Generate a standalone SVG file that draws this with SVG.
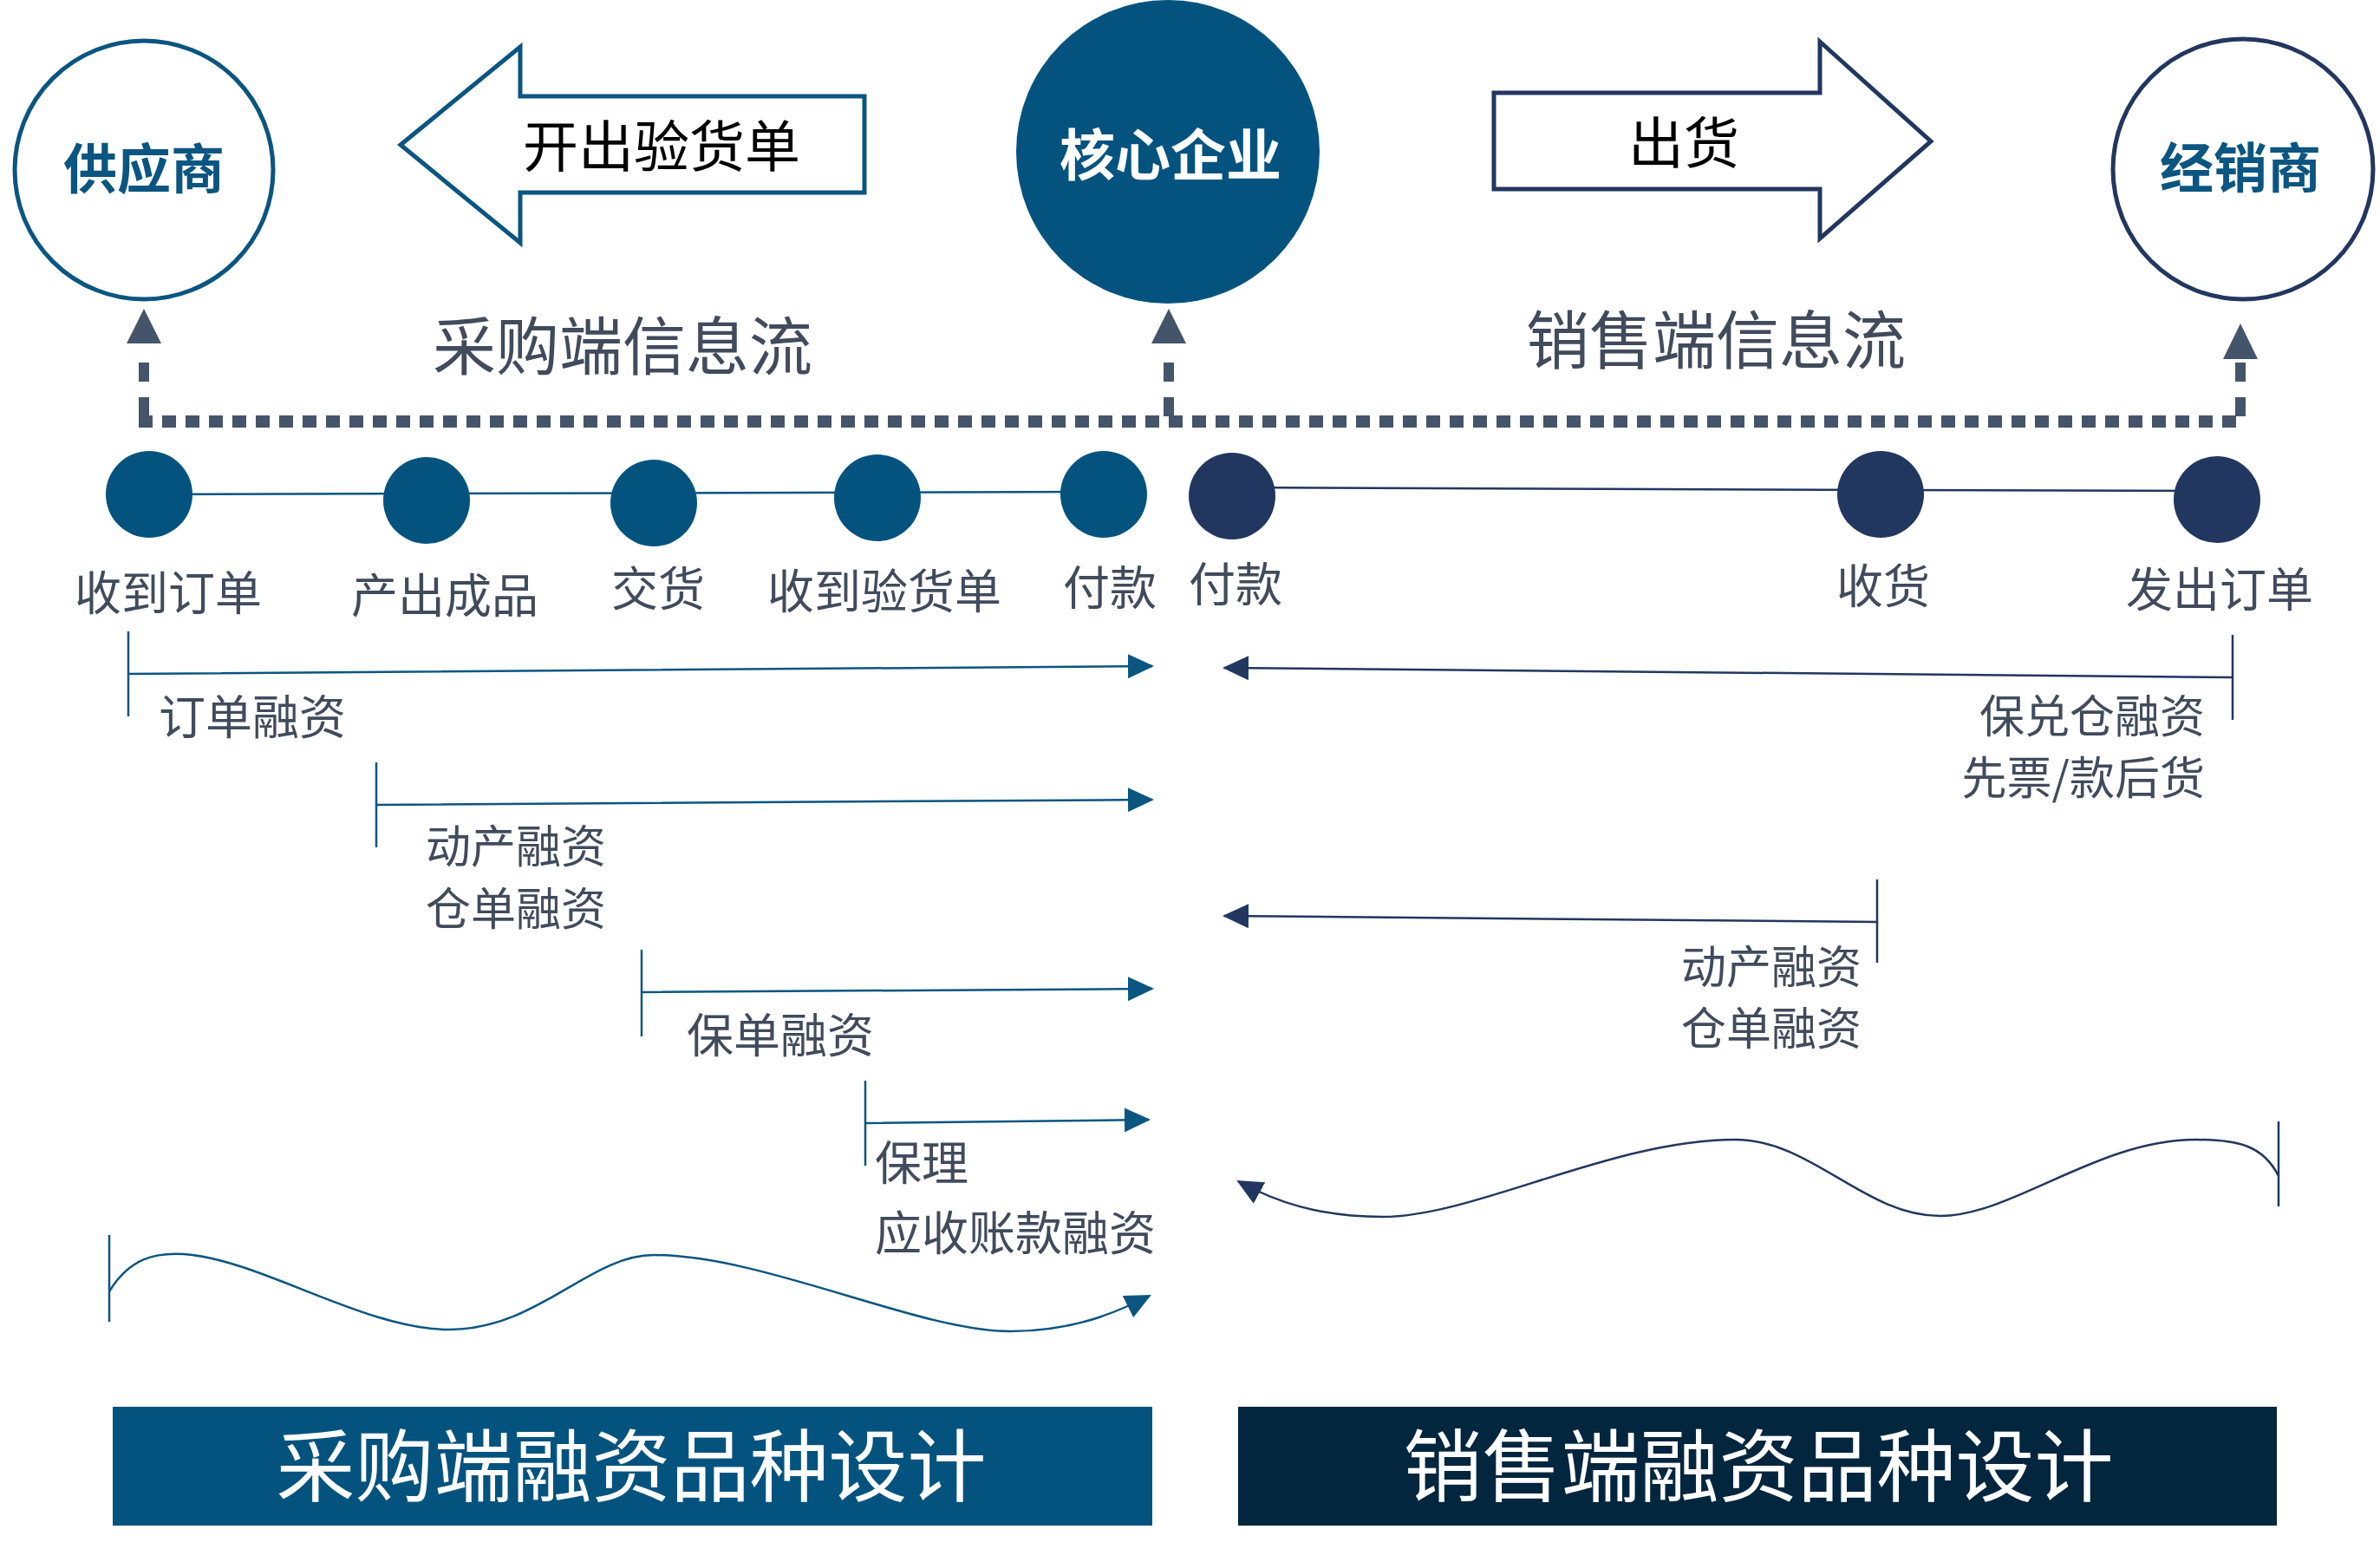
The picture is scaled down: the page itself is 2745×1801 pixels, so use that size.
<svg xmlns="http://www.w3.org/2000/svg" width="2745" height="1801" viewBox="0 0 2745 1801">
<style>
.t{font-family:"Noto Sans CJK SC","Liberation Sans",sans-serif;}
.lab{font-family:"Noto Sans CJK SC",sans-serif;font-size:54px;fill:#414b5c;}
.lab2{font-size:52px;}
.nl{stroke:#0b5581;stroke-width:2.5;fill:none;}
.nr{stroke:#22375f;stroke-width:2.5;fill:none;}
.dot{stroke:#44546a;stroke-width:14;stroke-dasharray:16 11;fill:none;}
.dotv{stroke:#44546a;stroke-width:12;stroke-dasharray:22 18;fill:none;}
.ln{fill:#04537f;}
.rn{fill:#22375f;}
</style>
<defs>
<marker id="ab" markerUnits="userSpaceOnUse" markerWidth="30" markerHeight="28" refX="28" refY="14" orient="auto"><path d="M0,0 L30,14 L0,28 Z" fill="#0b5581"/></marker>
<marker id="an" markerUnits="userSpaceOnUse" markerWidth="30" markerHeight="28" refX="28" refY="14" orient="auto"><path d="M0,0 L30,14 L0,28 Z" fill="#22375f"/></marker>
</defs>
<rect width="2745" height="1801" fill="#fff"/>
<g id="supplier"><circle cx="166" cy="196" r="149" fill="#fff" stroke="#0b5581" stroke-width="5"/><text class="t" x="166" y="218" font-size="62" font-weight="bold" fill="#0b5581" text-anchor="middle">供应商</text></g>
<g id="core"><circle cx="1347" cy="175" r="175" fill="#04537f"/><text class="t" x="1350" y="202" font-size="64" font-weight="bold" fill="#fff" text-anchor="middle">核心企业</text></g>
<g id="dealer"><circle cx="2587" cy="195" r="150" fill="#fff" stroke="#22375f" stroke-width="5"/><text class="t" x="2584" y="217" font-size="62" font-weight="bold" fill="#0b5581" text-anchor="middle">经销商</text></g>
<g id="arrow-left"><path d="M462,167 L600,54 L600,111 L997,111 L997,222 L600,222 L600,280 Z" fill="#fff" stroke="#0b5581" stroke-width="5"/><text class="t" x="763" y="192" font-size="64" fill="#000" text-anchor="middle">开出验货单</text></g>
<g id="arrow-right"><path d="M1723,107 L2099,107 L2099,48 L2227,163 L2099,275 L2099,218 L1723,218 Z" fill="#fff" stroke="#22375f" stroke-width="5"/><text class="t" x="1942" y="188" font-size="64" fill="#000" text-anchor="middle">出货</text></g>
<text class="t" x="718" y="426" font-size="73" fill="#414b5c" text-anchor="middle">采购端信息流</text>
<text class="t" x="1979" y="419" font-size="73" fill="#414b5c" text-anchor="middle">销售端信息流</text>
<g id="connectors">
<path class="dot" d="M160,486 H2590"/>
<path class="dotv" d="M166,480 V400"/><path d="M146,396 L166,356 L186,396 Z" fill="#44546a"/>
<path class="dotv" d="M1348,480 V400"/><path d="M1328,396 L1348,356 L1368,396 Z" fill="#44546a"/>
<path class="dotv" d="M2584,480 V418"/><path d="M2564,414 L2584,373 L2604,414 Z" fill="#44546a"/>
<path class="nl" d="M172,570 L1273,567"/>
<path class="nr" d="M1421,562 L2169,565 L2557,566"/>
<path class="nl" d="M148,728 V826 M148,777 L1329,768" marker-end="url(#ab)"/>
<path class="nl" d="M434,879 V977 M434,928 L1329,922" marker-end="url(#ab)"/>
<path class="nl" d="M740,1095 V1195 M740,1144 L1329,1140" marker-end="url(#ab)"/>
<path class="nl" d="M998,1246 V1344 M998,1295 L1325,1291" marker-end="url(#ab)"/>
<path class="nl" d="M126,1424 V1524"/>
<path class="nl" d="M126,1489 C150,1450 180,1444 212,1446 C300,1452 420,1533 518,1533 C620,1533 680,1447 754,1447 C880,1447 1060,1535 1165,1535 C1240,1535 1290,1512 1326,1494" marker-end="url(#ab)"/>
<path class="nr" d="M2575,732 V830 M2575,781 L1412,770" marker-end="url(#an)"/>
<path class="nr" d="M2165,1014 V1110 M2165,1063 L1412,1056" marker-end="url(#an)"/>
<path class="nr" d="M2628,1293 V1391"/>
<path class="nr" d="M2628,1356 C2610,1320 2580,1314 2532,1314 C2420,1314 2320,1402 2238,1402 C2150,1402 2090,1314 2001,1314 C1860,1314 1700,1403 1595,1403 C1520,1403 1470,1385 1428,1362" marker-end="url(#an)"/>
</g>
<g id="nodes-left">
<circle class="ln" cx="172" cy="570" r="50"/><circle class="ln" cx="492" cy="577" r="50"/><circle class="ln" cx="754" cy="580" r="50"/><circle class="ln" cx="1012" cy="574" r="50"/><circle class="ln" cx="1273" cy="570" r="50"/>
</g>
<g id="nodes-right">
<circle class="rn" cx="1421" cy="572" r="50"/><circle class="rn" cx="2169" cy="570" r="50"/><circle class="rn" cx="2557" cy="576" r="50"/>
</g>
<g id="labels" text-anchor="middle">
<text class="lab" x="194" y="704">收到订单</text>
<text class="lab" x="513" y="707">产出成品</text>
<text class="lab" x="759" y="699">交货</text>
<text class="lab" x="1020" y="702">收到验货单</text>
<text class="lab" x="1280" y="698">付款</text>
<text class="lab" x="1425" y="694">付款</text>
<text class="lab" x="2172" y="696">收货</text>
<text class="lab" x="2560" y="700">发出订单</text>
</g>
<g id="fin-labels">
<text class="lab" x="183" y="847">订单融资</text>
<text class="lab lab2" x="491" y="995">动产融资</text>
<text class="lab lab2" x="491" y="1067">仓单融资</text>
<text class="lab" x="792" y="1214">保单融资</text>
<text class="lab" x="1009" y="1361">保理</text>
<text class="lab" x="1009" y="1442">应收账款融资</text>
<text class="lab lab2" x="2543" y="845" text-anchor="end">保兑仓融资</text>
<text class="lab lab2" x="2543" y="916" text-anchor="end">先票/款后货</text>
<text class="lab lab2" x="2147" y="1134" text-anchor="end">动产融资</text>
<text class="lab lab2" x="2147" y="1205" text-anchor="end">仓单融资</text>
</g>
<g id="bar-left"><rect x="130" y="1622" width="1199" height="137" fill="#04537f"/><text class="t" x="728" y="1724" font-size="91" fill="#fff" text-anchor="middle">采购端融资品种设计</text></g>
<g id="bar-right"><rect x="1428" y="1622" width="1198" height="137" fill="#03263f"/><text class="t" x="2028" y="1724" font-size="91" fill="#fff" text-anchor="middle">销售端融资品种设计</text></g>
</svg>
